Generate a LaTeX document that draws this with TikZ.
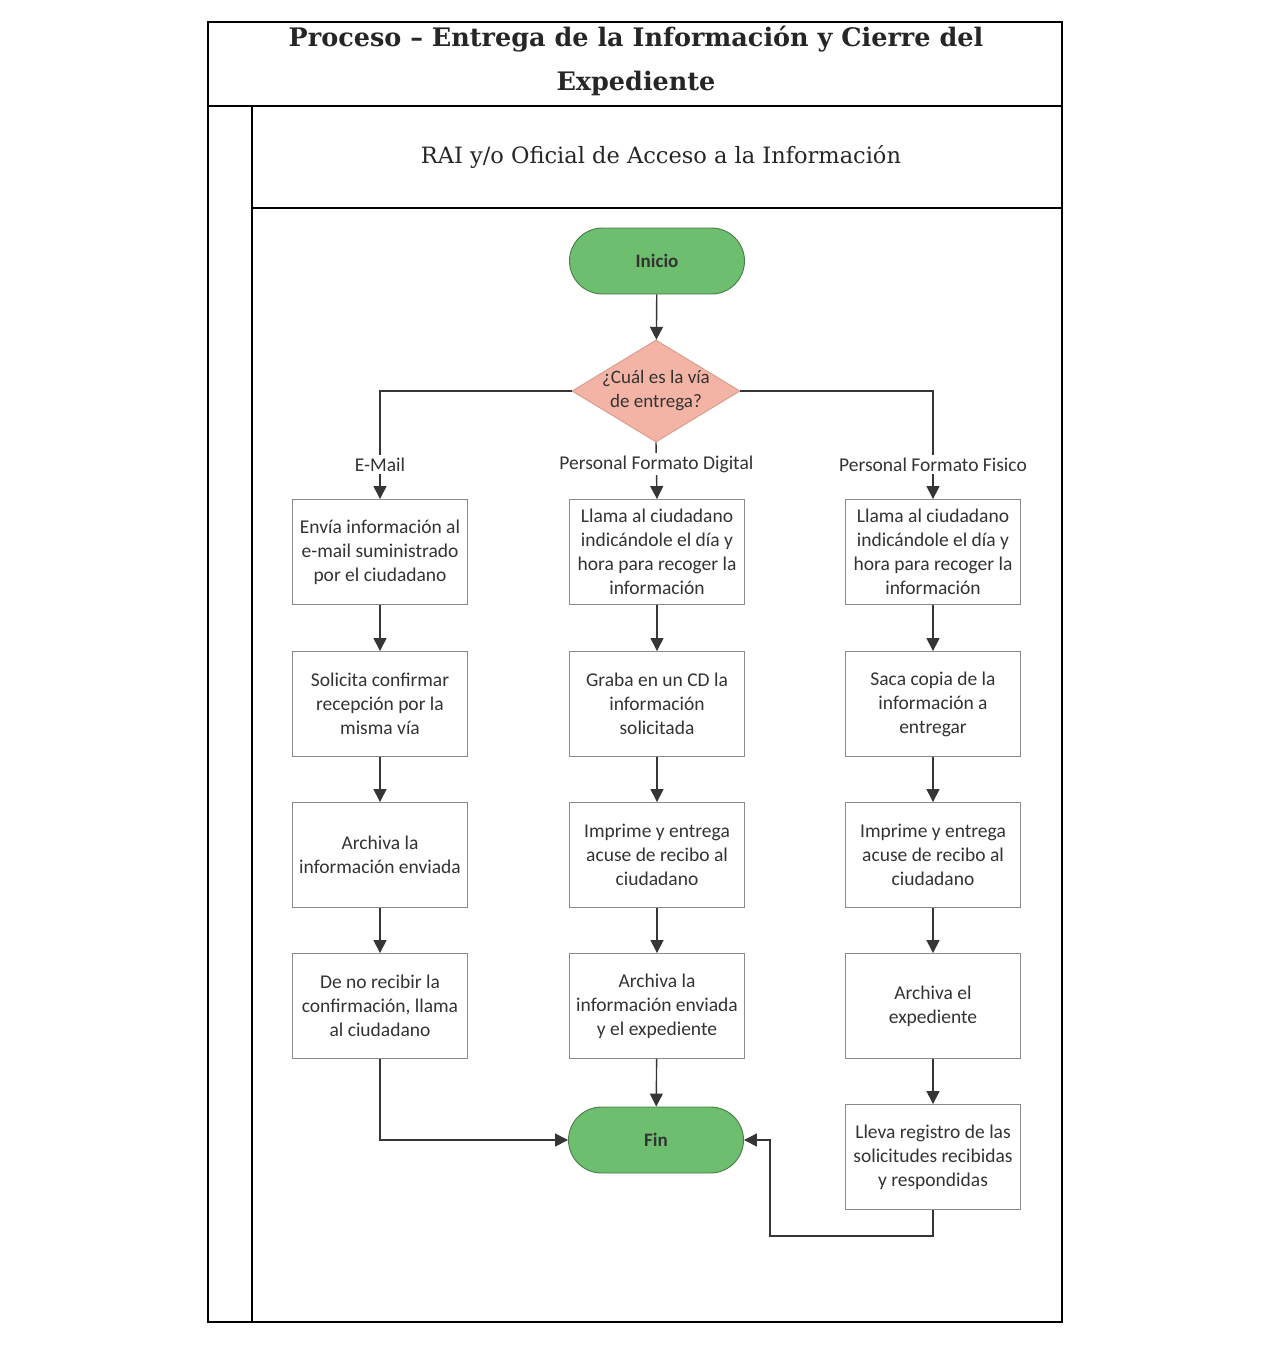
\documentclass[tikz,border=0pt]{standalone}
\usepackage{fontspec}
\setmainfont{Carlito}
\newfontfamily\slabfont{DejaVu Serif}
\usetikzlibrary{arrows.meta,shapes.geometric}
\definecolor{edgec}{HTML}{363636}
\definecolor{boxc}{HTML}{8A8A8A}
\definecolor{greenf}{HTML}{6DBE6E}
\definecolor{greend}{HTML}{4A7A4A}
\definecolor{pinkf}{HTML}{F3B4A6}
\definecolor{pinkd}{HTML}{D99A8C}
\tikzset{
  frame/.style={draw=black, line width=1.3pt},
  procbox/.style={draw=boxc, line width=0.9pt, fill=white, minimum width=175pt, minimum height=105pt, align=center, inner sep=2pt, font=\fontsize{19.5}{24}\selectfont, text=black!80},
  term/.style={draw=greend, line width=0.9pt, fill=greenf, rounded corners=33pt, minimum width=175pt, minimum height=66pt, font=\fontsize{19}{24}\selectfont\bfseries, text=black!80},
  decision/.style={diamond, draw=pinkd, line width=0.9pt, fill=pinkf, minimum width=168pt, minimum height=102pt, inner sep=0pt},
  conn/.style={draw=edgec, line width=1.4pt, -{Triangle[width=13pt,length=13pt]}},
  lbl/.style={fill=white, inner sep=3pt, font=\fontsize{19.5}{24}\selectfont, text=black!80}
}
\begin{document}
\begin{tikzpicture}[x=1pt,y=-1pt]
\useasboundingbox (0,0) rectangle (1262,1363);
% frame
\draw[frame] (208,22) rectangle (1062,1322);
\draw[frame] (208,106) -- (1062,106);
\draw[frame] (252,106) -- (252,1322);
\draw[frame] (252,208) -- (1062,208);
\node[align=center, font=\slabfont\bfseries\fontsize{25.5}{44}\selectfont, text=black!85] (title) at (636,61) {Proceso – Entrega de la Información y Cierre del\\Expediente};
\node[font=\slabfont\fontsize{22.5}{24}\selectfont, text=black!85] (lane) at (661,157) {RAI y/o Oficial de Acceso a la Información};
% nodes
\node[term] (inicio) at (657,261) {Inicio};
\node[decision] (dec) at (656,391) {};
\node[align=center, font=\fontsize{19}{24}\selectfont, text=black!80] (dectext) at (dec.center) {¿Cuál es la vía\\de entrega?};
\node[procbox] (a1) at (380,552) {Envía información al\\e-mail suministrado\\por el ciudadano};
\node[procbox] (a2) at (380,704) {Solicita confirmar\\recepción por la\\misma vía};
\node[procbox] (a3) at (380,855) {Archiva la\\información enviada};
\node[procbox] (a4) at (380,1006) {De no recibir la\\confirmación, llama\\al ciudadano};
\node[procbox] (b1) at (657,552) {Llama al ciudadano\\indicándole el día y\\hora para recoger la\\información};
\node[procbox] (b2) at (657,704) {Graba en un CD la\\información\\solicitada};
\node[procbox] (b3) at (657,855) {Imprime y entrega\\acuse de recibo al\\ciudadano};
\node[procbox] (b4) at (657,1006) {Archiva la\\información enviada\\y el expediente};
\node[procbox] (c1) at (933,552) {Llama al ciudadano\\indicándole el día y\\hora para recoger la\\información};
\node[procbox] (c2) at (933,704) {Saca copia de la\\información a\\entregar};
\node[procbox] (c3) at (933,855) {Imprime y entrega\\acuse de recibo al\\ciudadano};
\node[procbox] (c4) at (933,1006) {Archiva el\\expediente};
\node[procbox] (c5) at (933,1157) {Lleva registro de las\\solicitudes recibidas\\y respondidas};
\node[term] (fin) at (656,1140) {Fin};
% connectors
\draw[conn] (inicio) -- (dec);
\draw[conn] (dec.west) -| (a1.north) node[lbl, pos=0.84] (lblA) {E-Mail};
\draw[conn] (dec.south) -- (b1.north) node[lbl, pos=0.38] (lblB) {Personal Formato Digital};
\draw[conn] (dec.east) -| (c1.north) node[lbl, pos=0.84] (lblC) {Personal Formato Fisico};
\draw[conn] (a1) -- (a2);
\draw[conn] (a2) -- (a3);
\draw[conn] (a3) -- (a4);
\draw[conn] (b1) -- (b2);
\draw[conn] (b2) -- (b3);
\draw[conn] (b3) -- (b4);
\draw[conn] (b4) -- (fin);
\draw[conn] (c1) -- (c2);
\draw[conn] (c2) -- (c3);
\draw[conn] (c3) -- (c4);
\draw[conn] (c4) -- (c5);
\draw[conn] (a4.south) |- (fin.west);
\coordinate (cr) at (770,1236);
\draw[conn] (c5.south) |- (cr) |- (fin.east);
\end{tikzpicture}
\end{document}
